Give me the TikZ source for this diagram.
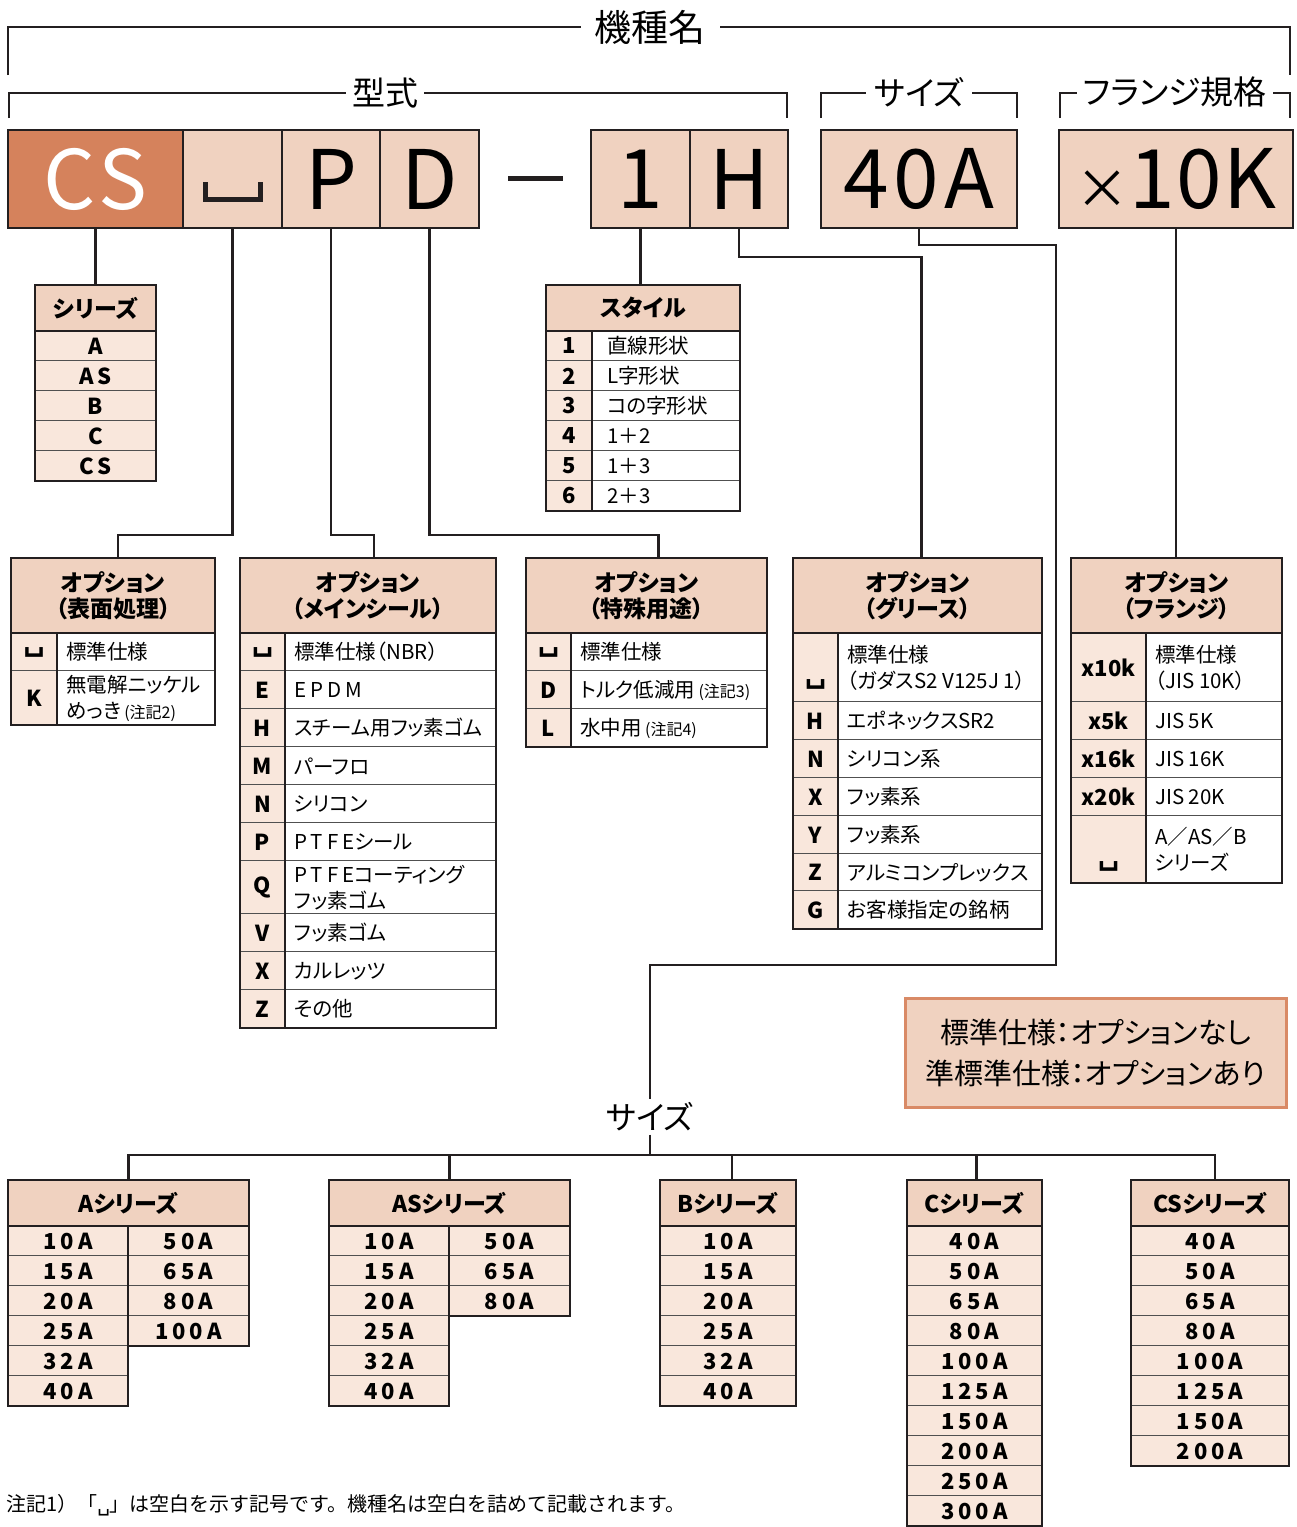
\documentclass[tikz,border=0pt]{standalone}
\usepackage{fontspec}
\setmainfont{Noto Sans CJK JP}[RawFeature=+palt]
\newfontfamily\jpfull{Noto Sans CJK JP}
\newfontfamily\djv{DejaVu Sans}
\usetikzlibrary{calc}
\definecolor{ink}{HTML}{231F20}
\definecolor{org}{HTML}{D5825C}
\definecolor{peach}{HTML}{F0D2C0}
\definecolor{pale}{HTML}{F9E7DC}
\definecolor{grid}{HTML}{505050}
\definecolor{noteb}{HTML}{D98A66}
\newcommand\blk{{\djv\bfseries\fontsize{30}{30}\selectfont ␣}}
\newcommand\blkr{{\djv ␣}}
\newcommand\fHdr{\fontsize{23}{26}\selectfont\bfseries}
\newcommand\fCode{\fontsize{22}{24}\selectfont\bfseries}
\newcommand\fTxt{\fontsize{20.5}{26}\selectfont}
\newcommand\fSm{\fontsize{16}{20}\selectfont}
\newcommand\fNum{\fontsize{22}{24}\selectfont\bfseries\addfontfeature{LetterSpace=18}}
\newcommand\fTop{\fontsize{82}{82}\selectfont}
\newcommand\lsp[1]{{\addfontfeature{LetterSpace=20}#1}}
% option row: name, x1, xm, x2, y1, y2, code, text
\newcommand\orow[8]{%
 \fill[pale] (#2,#5) rectangle (#3,#6);
 \fill[white] (#3,#5) rectangle (#4,#6);
 \draw[cellline] (#2,#6) -- (#4,#6);
 \draw[ink,line width=1.6pt] (#3,#5) -- (#3,#6);
 \node[codef] (#1c) at ({(#2+#3)/2},{(#5+#6)/2}) {#7};
 \node[txtf,anchor=west] (#1t) at ({#3+9},{(#5+#6)/2}) {#8};
}
% simple cell: name, x1, y1, x2, y2, text
\newcommand\scell[6]{%
 \fill[pale] (#2,#3) rectangle (#4,#5);
 \draw[cellline] (#2,#5) -- (#4,#5);
 \node[numf] (#1) at ({(#2+#4)/2},{(#3+#5)/2}) {#6};
}
% column of cells: prefix, x1, x2, ystart, list
\newcommand\numcol[5]{%
 \foreach \t [count=\i from 0] in {#5} {%
  \pgfmathtruncatemacro\ya{#4+30*\i}\pgfmathtruncatemacro\yb{\ya+30}%
  \scell{#1\i}{#2}{\ya}{#3}{\yb}{\t}}%
}
\begin{document}
\begin{tikzpicture}[x=1pt,y=-1pt,
 conn/.style={draw=ink,line width=2.6pt},
 brk/.style={draw=ink,line width=2pt},
 lblw/.style={fill=white,inner ysep=2pt,font=\fontsize{33}{33}\selectfont},
 topbox/.style={draw=ink,line width=2.6pt,fill=peach,minimum height=98,inner sep=0pt,font=\fTop},
 hdrc/.style={draw=ink,line width=2.6pt,fill=peach,inner sep=0pt,align=center,font=\fHdr},
 cellline/.style={draw=grid,line width=1.3pt},
 outer/.style={draw=ink,line width=2.6pt},
 codef/.style={font=\fCode,inner sep=0pt},
 txtf/.style={font=\fTxt,inner sep=0pt,align=left},
 numf/.style={font=\fNum,inner sep=0pt},
]
\useasboundingbox (0,0) rectangle (1297,1527);

% ---------- brackets ----------
\draw[brk] (8,75) -- (8,27) -- (1290,27) -- (1290,75);
\node[lblw,font=\fontsize{37}{37}\selectfont,inner xsep=14pt] (kishu) at (650,27) {機種名};
\draw[brk] (9,118) -- (9,93) -- (787,93) -- (787,118);
\node[lblw,inner xsep=6pt] (keishiki) at (385,93) {型式};
\draw[brk] (821,118) -- (821,93) -- (1017,93) -- (1017,118);
\node[lblw,inner xsep=8pt] (sizet) at (919,92) {サイズ};
\draw[brk] (1060,118) -- (1060,93) -- (1290,93) -- (1290,118);
\node[lblw,inner xsep=6pt] (flgt) at (1175,92) {フランジ規格};

% ---------- top boxes ----------
\node[topbox,minimum width=175,fill=org,text=white] (cs) at (95.5,179) {\addfontfeature{LetterSpace=6}CS};
\node[topbox,minimum width=99] (blank) at (232.5,179) {};
\draw[ink,line width=5pt] (205,182) -- (205,199) -- (260,199) -- (260,182);
\node[topbox,minimum width=98] (p) at (331,179) {P};
\node[topbox,minimum width=99] (d) at (429.5,179) {D};
\draw[ink,line width=5pt] (508,178) -- (563,178);
\node[topbox,minimum width=99] (one) at (640.5,179) {1};
\node[topbox,minimum width=98] (h) at (739,179) {H};
\node[topbox,minimum width=196] (size) at (919,179) {\addfontfeature{LetterSpace=6}40A};
\node[topbox,minimum width=234] (flg) at (1176,179) {{\fontsize{54}{54}\selectfont ×}\addfontfeature{LetterSpace=2}10K};

% ---------- table headers (nodes) ----------
\node[hdrc,minimum width=121,minimum height=46] (serh) at (95.5,308) {シリーズ};
\node[hdrc,minimum width=194,minimum height=46] (styh) at (643,308) {スタイル};
\node[hdrc,minimum width=204,minimum height=75] (t1h) at (113,595.5) {オプション\\（表面処理）};
\node[hdrc,minimum width=256,minimum height=75] (t2h) at (368,595.5) {オプション\\（メインシール）};
\node[hdrc,minimum width=241,minimum height=75] (t3h) at (646.5,595.5) {オプション\\（特殊用途）};
\node[hdrc,minimum width=249,minimum height=75] (t4h) at (917.5,595.5) {オプション\\（グリース）};
\node[hdrc,minimum width=211,minimum height=75] (t5h) at (1176.5,595.5) {オプション\\（フランジ）};

% ---------- connectors ----------
\coordinate (j1) at (0,535);
\coordinate (j2) at (0,257);
\coordinate (j3) at (0,245);
\coordinate (j4) at (1056,965);
\coordinate (bar) at (650,1155);
\draw[conn] (cs.south) -- (serh.north);
\draw[conn] (blank.south) -- (blank.south |- j1) -| ([xshift=5pt]t1h.north);
\draw[conn] (p.south) -- (p.south |- j1) -| ([xshift=6pt]t2h.north);
\draw[conn] (d.south) -- (d.south |- j1) -| ([xshift=12pt]t3h.north);
\draw[conn] (one.south) -- (one.south |- styh.north);
\draw[conn] (h.south) -- (h.south |- j2) -| ([xshift=4pt]t4h.north);
\draw[conn] (flg.south) -- (flg.south |- t5h.north);

% ---------- シリーズ ----------
\numcol{ser}{35}{156}{331}{A,AS,B,C,CS}
\draw[outer] (35,285) rectangle (156,481);
\node[hdrc,minimum width=121,minimum height=46] at (serh) {シリーズ};

% ---------- スタイル ----------
\orow{sty1}{546}{592}{740}{331}{361}{1}{\hspace*{6pt}直線形状}
\orow{sty2}{546}{592}{740}{361}{391}{2}{\hspace*{6pt}L字形状}
\orow{sty3}{546}{592}{740}{391}{421}{3}{\hspace*{6pt}コの字形状}
\orow{sty4}{546}{592}{740}{421}{451}{4}{\hspace*{6pt}1＋2}
\orow{sty5}{546}{592}{740}{451}{481}{5}{\hspace*{6pt}1＋3}
\orow{sty6}{546}{592}{740}{481}{511}{6}{\hspace*{6pt}2＋3}
\draw[outer] (546,285) rectangle (740,511);
\node[hdrc,minimum width=194,minimum height=46] at (styh) {スタイル};

% ---------- option 1 ----------
\orow{a1}{11}{57}{215}{633}{671}{\blk}{標準仕様}
\orow{a2}{11}{57}{215}{671}{725}{K}{無電解ニッケル\\めっき\,{\fSm(注記2)}}
\draw[outer] (11,558) rectangle (215,725);

% ---------- option 2 ----------
\orow{b1}{240}{285}{496}{633}{671}{\blk}{標準仕様（NBR）}
\orow{b2}{240}{285}{496}{671}{709}{E}{\lsp{EPDM}}
\orow{b3}{240}{285}{496}{709}{747}{H}{スチーム用フッ素ゴム}
\orow{b4}{240}{285}{496}{747}{785}{M}{パーフロ}
\orow{b5}{240}{285}{496}{785}{823}{N}{シリコン}
\orow{b6}{240}{285}{496}{823}{861}{P}{\lsp{PTFE}シール}
\orow{b7}{240}{285}{496}{861}{914}{Q}{\lsp{PTFE}コーティング\\フッ素ゴム}
\orow{b8}{240}{285}{496}{914}{952}{V}{フッ素ゴム}
\orow{b9}{240}{285}{496}{952}{990}{X}{カルレッツ}
\orow{b10}{240}{285}{496}{990}{1028}{Z}{その他}
\draw[outer] (240,558) rectangle (496,1028);

% ---------- option 3 ----------
\orow{c1}{526}{571}{767}{633}{671}{\blk}{標準仕様}
\orow{c2}{526}{571}{767}{671}{709}{D}{トルク低減用\,{\fSm(注記3)}}
\orow{c3}{526}{571}{767}{709}{747}{L}{水中用\,{\fSm(注記4)}}
\draw[outer] (526,558) rectangle (767,747);

% ---------- option 4 ----------
\orow{e1}{793}{838}{1042}{633}{702}{}{標準仕様\\（ガダスS2 V125J 1）}
\node[codef] (e1b) at (815.5,684) {\blk};
\orow{e2}{793}{838}{1042}{702}{740}{H}{エポネックスSR2}
\orow{e3}{793}{838}{1042}{740}{778}{N}{シリコン系}
\orow{e4}{793}{838}{1042}{778}{816}{X}{フッ素系}
\orow{e5}{793}{838}{1042}{816}{854}{Y}{フッ素系}
\orow{e6}{793}{838}{1042}{854}{891}{Z}{アルミコンプレックス}
\orow{e7}{793}{838}{1042}{891}{929}{G}{お客様指定の銘柄}
\draw[outer] (793,558) rectangle (1042,929);

% ---------- option 5 ----------
\orow{f1}{1071}{1146}{1282}{633}{702}{x10k}{標準仕様\\（JIS 10K）}
\orow{f2}{1071}{1146}{1282}{702}{740}{x5k}{JIS 5K}
\orow{f3}{1071}{1146}{1282}{740}{778}{x16k}{JIS 16K}
\orow{f4}{1071}{1146}{1282}{778}{816}{x20k}{JIS 20K}
\orow{f5}{1071}{1146}{1282}{816}{883}{}{A／AS／B\\シリーズ}
\node[codef] (f5b) at (1108.5,866) {\blk};
\draw[outer] (1071,558) rectangle (1282,883);

% redraw option headers on top
\node[hdrc,minimum width=204,minimum height=75] at (t1h) {オプション\\（表面処理）};
\node[hdrc,minimum width=256,minimum height=75] at (t2h) {オプション\\（メインシール）};
\node[hdrc,minimum width=241,minimum height=75] at (t3h) {オプション\\（特殊用途）};
\node[hdrc,minimum width=249,minimum height=75] at (t4h) {オプション\\（グリース）};
\node[hdrc,minimum width=211,minimum height=75] at (t5h) {オプション\\（フランジ）};

% ---------- note ----------
\node[draw=noteb,line width=3pt,fill=peach,minimum width=381,minimum height=109,align=center,inner sep=0pt,font=\fontsize{29}{41}\selectfont] (note) at (1095.5,1052.5) {標準仕様：オプションなし\\準標準仕様：オプションあり};

% ---------- size tree ----------
\node[font=\fontsize{32}{32}\selectfont,inner sep=3pt] (sizelbl) at (650,1117) {サイズ};
\draw[conn] (size.south) -- (size.south |- j3) -| (j4) -| (sizelbl.north);

\node[hdrc,minimum width=241,minimum height=46] (ah) at (128.5,1203) {Aシリーズ};
\node[hdrc,minimum width=241,minimum height=46] (ash) at (449.5,1203) {ASシリーズ};
\node[hdrc,minimum width=136,minimum height=46] (bh) at (728,1203) {Bシリーズ};
\node[hdrc,minimum width=135,minimum height=46] (ch) at (974.5,1203) {Cシリーズ};
\node[hdrc,minimum width=158,minimum height=46] (csh) at (1210,1203) {CSシリーズ};
\draw[conn] (sizelbl.south) -- (bar);
\draw[conn] (ah.north) |- ([xshift=5pt]csh.north |- bar) -- ([xshift=5pt]csh.north);
\draw[conn] (ash.north) -- (ash.north |- bar);
\draw[conn] ([xshift=4pt]bh.north) -- ([xshift=4pt]bh.north |- bar);
\draw[conn] ([xshift=2pt]ch.north) -- ([xshift=2pt]ch.north |- bar);

\numcol{aL}{8}{128}{1226}{10A,15A,20A,25A,32A,40A}
\numcol{aR}{128}{249}{1226}{50A,65A,80A,100A}
\draw[outer] (8,1226) rectangle (128,1406);
\draw[outer] (128,1226) rectangle (249,1346);
\numcol{sL}{329}{449}{1226}{10A,15A,20A,25A,32A,40A}
\numcol{sR}{449}{570}{1226}{50A,65A,80A}
\draw[outer] (329,1226) rectangle (449,1406);
\draw[outer] (449,1226) rectangle (570,1316);
\numcol{bb}{660}{796}{1226}{10A,15A,20A,25A,32A,40A}
\draw[outer] (660,1226) rectangle (796,1406);
\numcol{cc}{907}{1042}{1226}{40A,50A,65A,80A,100A,125A,150A,200A,250A,300A}
\draw[outer] (907,1226) rectangle (1042,1526);
\numcol{dd}{1131}{1289}{1226}{40A,50A,65A,80A,100A,125A,150A,200A}
\draw[outer] (1131,1226) rectangle (1289,1466);
\node[hdrc,minimum width=241,minimum height=46] at (ah) {Aシリーズ};
\node[hdrc,minimum width=241,minimum height=46] at (ash) {ASシリーズ};
\node[hdrc,minimum width=136,minimum height=46] at (bh) {Bシリーズ};
\node[hdrc,minimum width=135,minimum height=46] at (ch) {Cシリーズ};
\node[hdrc,minimum width=158,minimum height=46] at (csh) {CSシリーズ};

% ---------- footnote ----------
\node[anchor=west,inner sep=0pt,font=\jpfull\fontsize{20}{20}\selectfont] (fn) at (6,1505) {注記1）「\blkr」は空白を示す記号です。機種名は空白を詰めて記載されます。};
\end{tikzpicture}
\end{document}
